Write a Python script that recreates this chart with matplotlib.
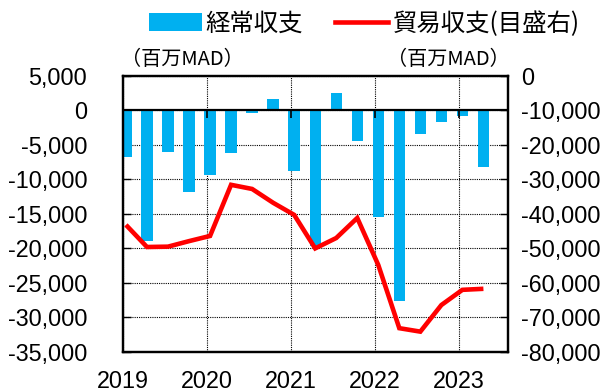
import numpy as np
import matplotlib.pyplot as plt
from matplotlib.patches import Patch
from matplotlib.lines import Line2D
from matplotlib.ticker import FuncFormatter, MultipleLocator

# quarterly data, 2019Q1 - 2023Q2 (million MAD)
quarters = ['2019Q1', '2019Q2', '2019Q3', '2019Q4',
            '2020Q1', '2020Q2', '2020Q3', '2020Q4',
            '2021Q1', '2021Q2', '2021Q3', '2021Q4',
            '2022Q1', '2022Q2', '2022Q3', '2022Q4',
            '2023Q1', '2023Q2']
current_account = [-6800, -18900, -6100, -11900,
                   -9350, -6200, -400, 1650,
                   -8850, -19600, 2500, -4500,
                   -15500, -27600, -3400, -1700,
                   -900, -8200]
trade_balance = [-43200, -49600, -49500, -47900,
                 -46400, -31600, -32800, -36800,
                 -40300, -50000, -47000, -41200,
                 -54800, -73100, -74100, -66400,
                 -62000, -61700]
year_labels = ['2019', '2020', '2021', '2022', '2023']

jp_font = ['Noto Sans CJK JP', 'DejaVu Sans']
plt.rcParams['font.family'] = ['Liberation Sans', 'DejaVu Sans']

fig = plt.figure(figsize=(6.16, 3.92), dpi=100)
ax = fig.add_axes([0.199, 0.102, 0.6257, 0.705])
ax2 = ax.twinx()

x = np.arange(len(quarters)) + 0.16
ax.bar(x, current_account, width=0.54, color='#00B0F0', zorder=2)
ax2.plot(x, trade_balance, color='#FF0000', lw=3.3, solid_joinstyle='miter',
         solid_capstyle='butt', zorder=3)

ax.set_xlim(0, 18.33)
ax.set_ylim(-35000, 5000)
ax2.set_ylim(-80000, 0)
ax.yaxis.set_major_locator(MultipleLocator(5000))
ax2.yaxis.set_major_locator(MultipleLocator(10000))
fmt = FuncFormatter(lambda v, p: f'{v:,.0f}')
ax.yaxis.set_major_formatter(fmt)
ax2.yaxis.set_major_formatter(fmt)

year_pos = np.arange(len(year_labels)) * 4
ax.set_xticks(year_pos)
ax.set_xticklabels(year_labels)

ax.set_axisbelow(True)
ax.grid(True, color='black', ls=(0, (1, 1)), lw=0.8)

# zero line with year ticks hanging below it
ax.axhline(0, color='black', lw=1.6, zorder=2.5)
ax.vlines(year_pos[1:], -1100, 0, color='black', lw=1.2, zorder=2.5)

ax.tick_params(axis='y', direction='in', length=6, width=1, pad=25.5, labelsize=16.8)
ax.tick_params(axis='x', length=0, pad=13, labelsize=16.8)
ax2.tick_params(axis='y', direction='in', length=6, width=1, pad=9.4, labelsize=16.8)
for a in (ax, ax2):
    for s in a.spines.values():
        s.set_linewidth(1.6)

fig.text(0.296, 0.847, '（百万MAD）', family=jp_font, fontsize=14.5, ha='center', va='center')
fig.text(0.728, 0.847, '（百万MAD）', family=jp_font, fontsize=14.5, ha='center', va='center')

handles = [Patch(facecolor='#00B0F0', edgecolor='none'),
           Line2D([], [], color='#FF0000', lw=3.3)]
fig.legend(handles, ['経常収支', '貿易収支(目盛右)'], loc='center', ncol=2,
           bbox_to_anchor=(0.591, 0.939), frameon=False,
           prop={'family': jp_font, 'size': 17.6},
           handlelength=2.17, handleheight=0.75, handletextpad=0.17,
           columnspacing=1.3, borderpad=0, borderaxespad=0)

fig.savefig('out.png', dpi=100)
